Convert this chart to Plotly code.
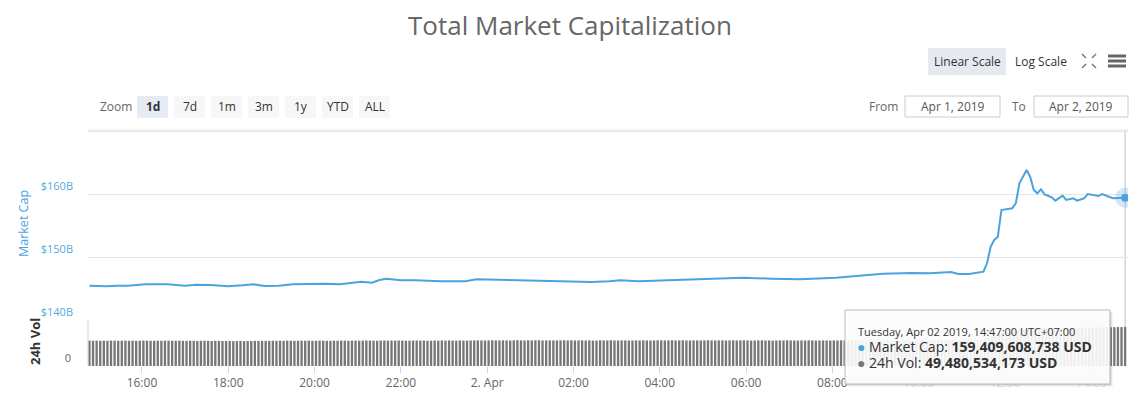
import plotly.graph_objects as go
import pandas as pd

# ---------------- data ----------------
mc_times = [
    "2019-04-01 14:47", "2019-04-01 15:10", "2019-04-01 15:25", "2019-04-01 15:40",
    "2019-04-01 16:05", "2019-04-01 16:35", "2019-04-01 17:00", "2019-04-01 17:15",
    "2019-04-01 17:35", "2019-04-01 18:00", "2019-04-01 18:20", "2019-04-01 18:35",
    "2019-04-01 18:50", "2019-04-01 19:10", "2019-04-01 19:30", "2019-04-01 19:55",
    "2019-04-01 20:15", "2019-04-01 20:35", "2019-04-01 20:50", "2019-04-01 21:05",
    "2019-04-01 21:20", "2019-04-01 21:30", "2019-04-01 21:40", "2019-04-01 22:00",
    "2019-04-01 22:20", "2019-04-01 22:55", "2019-04-01 23:30", "2019-04-01 23:45",
    "2019-04-02 00:15", "2019-04-02 01:00", "2019-04-02 01:30", "2019-04-02 02:00",
    "2019-04-02 02:25", "2019-04-02 02:50", "2019-04-02 03:05", "2019-04-02 03:30",
    "2019-04-02 04:05", "2019-04-02 04:30", "2019-04-02 05:00", "2019-04-02 05:55",
    "2019-04-02 06:35", "2019-04-02 07:15", "2019-04-02 08:05", "2019-04-02 08:35",
    "2019-04-02 09:10", "2019-04-02 09:50", "2019-04-02 10:15", "2019-04-02 10:45",
    "2019-04-02 10:55", "2019-04-02 11:10", "2019-04-02 11:30", "2019-04-02 11:35",
    "2019-04-02 11:40", "2019-04-02 11:45", "2019-04-02 11:50", "2019-04-02 11:55",
    "2019-04-02 12:10", "2019-04-02 12:15", "2019-04-02 12:20", "2019-04-02 12:30",
    "2019-04-02 12:35", "2019-04-02 12:40", "2019-04-02 12:45", "2019-04-02 12:50",
    "2019-04-02 12:55", "2019-04-02 13:05", "2019-04-02 13:10", "2019-04-02 13:20",
    "2019-04-02 13:25", "2019-04-02 13:35", "2019-04-02 13:40", "2019-04-02 13:50",
    "2019-04-02 13:55", "2019-04-02 14:10", "2019-04-02 14:15", "2019-04-02 14:30",
    "2019-04-02 14:47",
]
mc_values_b = [
    145.44, 145.35, 145.44, 145.44,
    145.67, 145.67, 145.44, 145.60,
    145.56, 145.35, 145.51, 145.67,
    145.40, 145.44, 145.67, 145.76,
    145.76, 145.67, 145.92, 146.08,
    145.92, 146.35, 146.56, 146.30,
    146.30, 146.14, 146.14, 146.46,
    146.40, 146.30, 146.24, 146.14,
    146.03, 146.14, 146.30, 146.14,
    146.30, 146.35, 146.46, 146.71,
    146.56, 146.46, 146.71, 146.98,
    147.35, 147.46, 147.41, 147.62,
    147.30, 147.30, 147.67, 149.00,
    151.63, 152.70, 153.22, 157.46,
    157.73, 158.52, 161.70, 163.81,
    162.75, 160.63, 160.11, 160.75,
    159.95, 159.48, 158.94, 159.73,
    159.05, 159.32, 158.94, 159.32,
    160.00, 159.68, 160.00, 159.32,
    159.41,
]

vol_start = "2019-04-01 14:47"
vol_step = "5min"
vol_values_b = [
    32.3, 32.1, 32.2, 32.0, 32.2, 32.1, 32.3, 32.2, 32.0, 32.1, 32.2, 32.1,
    32.2, 32.0, 32.1, 32.3, 32.2, 32.1, 32.0, 32.2, 32.1, 32.3, 32.2, 32.0,
    32.1, 32.2, 32.0, 31.9, 32.1, 32.0, 31.8, 32.0, 32.1, 31.9, 31.8, 32.0,
    31.9, 31.7, 31.8, 31.9, 31.6, 31.7, 31.8, 31.6, 31.7, 31.8, 31.9, 31.8,
    31.9, 32.0, 31.9, 32.1, 32.0, 32.1, 32.0, 32.2, 32.1, 32.0, 32.1, 32.2,
    32.1, 32.2, 32.0, 32.1, 32.3, 32.2, 32.1, 32.0, 32.2, 32.1, 32.3, 32.2,
    32.1, 32.2, 32.3, 32.1, 32.2, 32.4, 32.3, 32.2, 32.1, 32.3, 32.4, 32.2,
    32.3, 32.2, 32.4, 32.3, 32.1, 32.2, 32.3, 32.4, 32.2, 32.3, 32.1, 32.2,
    32.3, 32.2, 32.4, 32.3, 32.5, 32.3, 32.2, 32.4, 32.3, 32.2, 32.4, 32.5,
    32.6, 32.5, 32.4, 32.6, 32.7, 32.5, 32.4, 32.6, 32.5, 32.4, 32.6, 32.7,
    32.5, 32.4, 32.6, 32.5, 32.7, 32.6, 32.4, 32.5, 32.6, 32.4, 32.5, 32.6,
    32.7, 32.5, 32.6, 32.4, 32.5, 32.6, 32.4, 32.5, 32.3, 32.4, 32.6, 32.5,
    32.4, 32.7, 32.5, 32.4, 32.6, 32.5, 32.3, 32.4, 32.5, 32.4, 32.6, 32.5,
    32.4, 32.5, 32.7, 32.6, 32.4, 32.5, 32.6, 32.4, 32.5, 32.6, 32.5, 32.4,
    32.6, 32.5, 32.4, 32.6, 32.7, 32.5, 32.4, 32.5, 32.6, 32.4, 32.5, 32.6,
    32.4, 32.5, 32.6, 32.5, 32.3, 32.4, 32.5, 32.6, 32.4, 32.5, 32.3, 32.4,
    32.5, 32.4, 32.6, 32.5, 32.4, 32.3, 32.5, 32.4, 32.6, 32.5, 32.3, 32.4,
    32.5, 32.4, 32.3, 32.5, 32.4, 32.6, 32.5, 32.4, 32.5, 32.6, 32.5, 32.4,
    32.5, 32.6, 32.4, 32.5, 32.6, 32.5, 32.7, 32.6, 32.5, 32.6, 32.7, 32.6,
    32.7, 32.6, 32.8, 32.7, 32.6, 32.8, 32.7, 32.9, 32.8, 32.7, 32.9, 32.8,
    32.9, 32.8, 32.9, 33.0, 32.9, 33.1, 33.0, 33.2, 33.4, 34.6, 36.2, 38.0,
    39.5, 41.0, 42.2, 43.1, 43.8, 44.6, 45.5, 46.1, 46.5, 46.8, 47.0, 47.2,
    47.4, 47.5, 47.7, 47.8, 47.9, 48.0, 48.1, 48.2, 48.3, 48.4, 48.4, 48.5,
    48.6, 48.7, 48.8, 48.8, 48.9, 49.0, 49.1, 49.2, 49.2, 49.3, 49.4, 49.4,
    49.48,
]
vol_times = pd.date_range(vol_start, periods=len(vol_values_b), freq=vol_step)

x_tick_vals = [
    "2019-04-01 16:00", "2019-04-01 18:00", "2019-04-01 20:00", "2019-04-01 22:00",
    "2019-04-02 00:00", "2019-04-02 02:00", "2019-04-02 04:00", "2019-04-02 06:00",
    "2019-04-02 08:00", "2019-04-02 10:00", "2019-04-02 12:00", "2019-04-02 14:00",
]
x_tick_text = ["16:00", "18:00", "20:00", "22:00", "2. Apr", "02:00", "04:00",
               "06:00", "08:00", "10:00", "12:00", "14:00"]
x_tick_behind_tooltip = ["10:00", "12:00", "14:00"]
y_tick_vals = [140, 150, 160, 170]
y_tick_text = ["$140B", "$150B", "$160B", ""]

zoom_buttons = ["1d", "7d", "1m", "3m", "1y", "YTD", "ALL"]
tooltip_date = "Tuesday, Apr 02 2019, 14:47:00 UTC+07:00"
tooltip_cap = "159,409,608,738 USD"
tooltip_vol = "49,480,534,173 USD"

# ---------------- layout helpers (screen pixel coords) ----------------
OFF = 8                      # page body margin
W, H = 1141 - 2 * OFF, 397 - OFF
PL, PR, PT, PB = 88, 1128, 130, 366   # plot area on screen


def px(x):
    return (x - PL) / (PR - PL)


def py(y):
    return (PB - y) / (PB - PT)


LINE = "#4aa3df"
FONT = "Open Sans, Arial, sans-serif"

fig = go.Figure()
fig.add_trace(go.Bar(x=vol_times, y=vol_values_b, marker=dict(color="#777777", line_width=0),
                     yaxis="y2", xaxis="x", name="24h Vol"))
fig.add_trace(go.Scatter(x=mc_times, y=mc_values_b, mode="lines",
                         line=dict(color=LINE, width=2), yaxis="y", xaxis="x", name="Market Cap"))
fig.add_trace(go.Scatter(x=[mc_times[-1]], y=[mc_values_b[-1]], mode="markers",
                         marker=dict(size=20, color="rgba(74,163,223,0.25)"), yaxis="y", xaxis="x"))
fig.add_trace(go.Scatter(x=[mc_times[-1]], y=[mc_values_b[-1]], mode="markers",
                         marker=dict(size=8, color=LINE), yaxis="y", xaxis="x"))

split = py(320)
shapes = []
annotations = []


def text(t, x, y, size=12, color="#333333", xanchor="center", angle=0):
    annotations.append(dict(text=t, xref="paper", yref="paper", x=px(x), y=py(y),
                            xanchor=xanchor, yanchor="middle", showarrow=False, textangle=angle,
                            font=dict(size=size, color=color, family=FONT)))


def rect(x0, y0, x1, y1, fill, line=None, layer="above"):
    shapes.append(dict(type="rect", xref="paper", yref="paper", x0=px(x0), x1=px(x1),
                       y0=py(y1), y1=py(y0), fillcolor=fill,
                       line=line if line else dict(width=0), layer=layer))


def seg(x0, y0, x1, y1, color, width=1):
    shapes.append(dict(type="line", xref="paper", yref="paper", x0=px(x0), x1=px(x1),
                       y0=py(y0), y1=py(y1), line=dict(color=color, width=width)))


# frame lines
seg(PL, PT, PR, PT, "#e6e6e6")
seg(PL, 320, PL, PB, "#ccd6eb")
# crosshair
shapes.append(dict(type="line", xref="x", yref="paper", x0=mc_times[-1], x1=mc_times[-1],
                   y0=0, y1=1, line=dict(color="#c0c0c0", width=1), layer="below"))

# title
text("Total Market Capitalization", 570, 25, size=26, color="#666666")

# axis titles
text("Market Cap", 23, 224, size=12.5, color=LINE, angle=-90)
text("<b>24h Vol</b>", 35, 342, size=13, color="#333333", angle=-90)

# scale buttons
rect(928, 48, 1006, 75, "#e6e9ef")
text("Linear Scale", 967, 61.5, size=12)
text("Log Scale", 1041, 61.5, size=12)
cx, cy = 1089, 61
for dx, dy in [(-1, -1), (1, -1), (-1, 1), (1, 1)]:
    seg(cx + dx * 3, cy + dy * 3, cx + dx * 7, cy + dy * 7, "#777777", 1.5)
for yy in [56, 61, 66]:
    seg(1108, yy, 1126, yy, "#666666", 3)

# zoom buttons
text("Zoom", 116, 106.5, size=12, color="#666666")
btn_x0 = [137, 174, 211, 248, 285, 322, 359]
for i, lab in enumerate(zoom_buttons):
    x0 = btn_x0[i]
    sel = (i == 0)
    rect(x0, 96, x0 + 31, 118, "#e6ebf5" if sel else "#f7f7f7", layer="below")
    text(f"<b>{lab}</b>" if sel else lab, x0 + 15.5, 106.5, size=12)

# date range inputs
text("From", 883, 106.5, size=12, color="#666666")
text("To", 1019, 106.5, size=12, color="#666666")
for (a, b, t) in [(905, 1000, "Apr 1, 2019"), (1034, 1128, "Apr 2, 2019")]:
    rect(a, 96, b, 117, "white", line=dict(color="#cccccc", width=1))
    text(t, (a + b) / 2, 106.5, size=12, color="#555555")

# tooltip
for off, alpha in [(3, 0.04), (2, 0.06), (1, 0.08)]:
    rect(845 + off, 310 + off, 1110 + off, 384 + off, f"rgba(0,0,0,{alpha})")
rect(845, 310, 1110, 384, "rgba(255,255,255,0.9)", line=dict(color="#b8b8b8", width=1))
text(tooltip_date, 856, 331, size=11, xanchor="left")
text(f"<span style='color:{LINE}'>●</span> Market Cap: <b>{tooltip_cap}</b>", 855, 346,
     size=14, xanchor="left")
text(f"<span style='color:#777777'>●</span> 24h Vol: <b>{tooltip_vol}</b>", 855, 362,
     size=14, xanchor="left")

# tick labels hidden behind the (semi-transparent) tooltip appear ghosted
tick_text_shown = [f"<span style='color:#e2e2e2'>{t}</span>" if t in x_tick_behind_tooltip else t
                   for t in x_tick_text]

fig.update_layout(
    width=W, height=H,
    margin=dict(l=PL - OFF, r=W - (PR - OFF), t=PT - OFF, b=H - (PB - OFF), autoexpand=False),
    paper_bgcolor="white", plot_bgcolor="white",
    showlegend=False, bargap=0.35,
    font=dict(family=FONT),
    xaxis=dict(type="date", range=["2019-04-01 14:45", "2019-04-02 14:51"], anchor="y2",
               tickvals=x_tick_vals, ticktext=tick_text_shown, ticks="outside", ticklen=6,
               tickcolor="#ccd6eb", tickfont=dict(size=12, color="#666666", family=FONT),
               showgrid=False, showline=False, zeroline=False),
    yaxis=dict(domain=[split, 1], range=[140, 170.16], tickvals=y_tick_vals, ticktext=y_tick_text,
               showgrid=True, gridcolor="#e6e6e6", zeroline=False, showline=False,
               ticklabelposition="outside top", ticklabelstandoff=14,
               tickfont=dict(size=11, color="#5aa8dc", family=FONT)),
    yaxis2=dict(domain=[0, split], range=[0, 58.4], tickvals=[0], ticktext=["0"],
                showgrid=False, zeroline=False, showline=False,
                ticklabelposition="outside top", ticklabelstandoff=16,
                tickfont=dict(size=11, color="#666666", family=FONT)),
    shapes=shapes, annotations=annotations,
)

fig.write_html("out.html")
